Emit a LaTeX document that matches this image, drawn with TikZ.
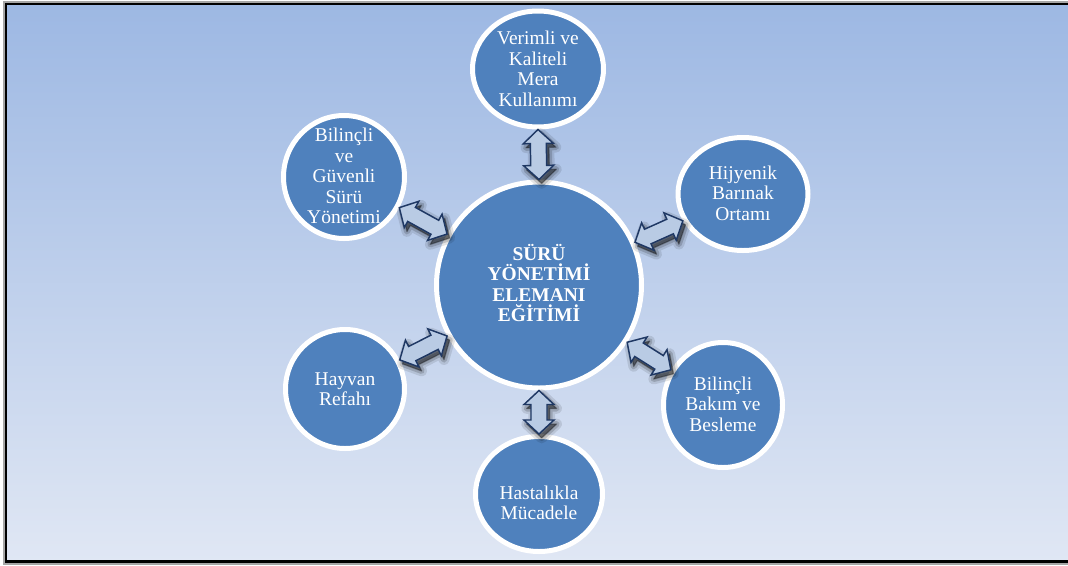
\documentclass[tikz,border=0pt]{standalone}
\usepackage{fontspec}
\setmainfont{Liberation Serif}
\usetikzlibrary{shapes.geometric,calc}
\definecolor{bgtop}{HTML}{9DB8E3}
\definecolor{bgbot}{HTML}{E0E7F4}
\definecolor{discblue}{HTML}{4F81BD}
\definecolor{arrfill}{HTML}{B9CBE4}
\definecolor{arrline}{HTML}{1F3864}
\tikzset{
  disc/.style={ellipse, draw=white, line width=3.75pt, fill=discblue, inner sep=0pt},
  lbl/.style={text=white, align=center, font=\fontsize{14.6}{15.4}\selectfont, inner sep=0pt},
  clbl/.style={lbl, font=\fontsize{14.6}{15.4}\selectfont\bfseries},
  conn/.style={draw=arrline, fill=arrfill, line width=1.1pt, line join=miter},
  connshadow/.style={black, line join=round, transform canvas={shift={(2pt,-3pt)}}},
}
\newcommand\arrowpath[2]{(#1) -- ($(#1)!10.5pt!(#2)!11.25pt!90:(#2)$) -- ($(#1)!10.5pt!(#2)!6pt!90:(#2)$) -- ($(#2)!10.5pt!(#1)!6pt!-90:(#1)$) -- ($(#2)!10.5pt!(#1)!11.25pt!-90:(#1)$) -- (#2) -- ($(#2)!10.5pt!(#1)!11.25pt!90:(#1)$) -- ($(#2)!10.5pt!(#1)!6pt!90:(#1)$) -- ($(#1)!10.5pt!(#2)!6pt!-90:(#2)$) -- ($(#1)!10.5pt!(#2)!11.25pt!-90:(#2)$) -- cycle}
\newcommand\linkarrow[2]{%
  \path let \p1=($(#2)-(#1)$), \n1={atan2(\y1,\x1)}, \n2={\n1+180} in
    coordinate (#1#2A) at (#1.\n1) coordinate (#1#2B) at (#2.\n2);
  \filldraw[connshadow, opacity=0.10, line width=8pt] \arrowpath{#1#2A}{#1#2B};
  \filldraw[connshadow, opacity=0.16, line width=4.5pt] \arrowpath{#1#2A}{#1#2B};
  \filldraw[connshadow, opacity=0.28, line width=1pt] \arrowpath{#1#2A}{#1#2B};
  \draw[conn] \arrowpath{#1#2A}{#1#2B};
}
\begin{document}
\begin{tikzpicture}[x=0.75pt,y=-0.75pt]
\useasboundingbox (0,0) rectangle (1068,565);
\fill[white] (0,0) rectangle (1068,565);
% frame
\draw[black!35, line width=5pt] (6,4) rectangle (1090,561.5);
\shade[top color=bgtop, bottom color=bgbot] (6,4) rectangle (1090,561.5);
\draw[black, line width=1.6pt] (6,4) rectangle (1090,561.5);
% discs
\node[disc, minimum width=153.75pt, minimum height=154.5pt] (c) at (539,285) {};
\node[disc, minimum width=98.25pt, minimum height=87pt] (v) at (538,69) {};
\node[disc, minimum width=90.75pt, minimum height=92.25pt] (bg) at (344,177) {};
\node[disc, minimum width=97.5pt, minimum height=84.75pt] (hb) at (743,194) {};
\node[disc, minimum width=89.25pt, minimum height=93.75pt] (bb) at (723,405) {};
\node[disc, minimum width=95.25pt, minimum height=86.25pt] (hm) at (539,494) {};
\node[disc, minimum width=89.25pt, minimum height=89.25pt] (hr) at (345,389) {};
% labels
\node[clbl] (c-t) at (539,283) {SÜRÜ\\YÖNETİMİ\\ELEMANI\\EĞİTİMİ};
\node[lbl] (v-t) at (538,69) {Verimli ve\\Kaliteli\\Mera\\Kullanımı};
\node[lbl] (bg-t) at (344,176) {Bilinçli\\ve\\Güvenli\\Sürü\\Yönetimi};
\node[lbl] (hb-t) at (743,193) {Hijyenik\\Barınak\\Ortamı};
\node[lbl] (bb-t) at (723,404) {Bilinçli\\Bakım ve\\Besleme};
\node[lbl] (hm-t) at (539,503) {Hastalıkla\\Mücadele};
\node[lbl] (hr-t) at (345,389) {Hayvan\\Refahı};
% connectors
\linkarrow{c}{v}
\linkarrow{c}{bg}
\linkarrow{c}{hb}
\linkarrow{c}{bb}
\linkarrow{c}{hm}
\linkarrow{c}{hr}
\end{tikzpicture}
\end{document}
